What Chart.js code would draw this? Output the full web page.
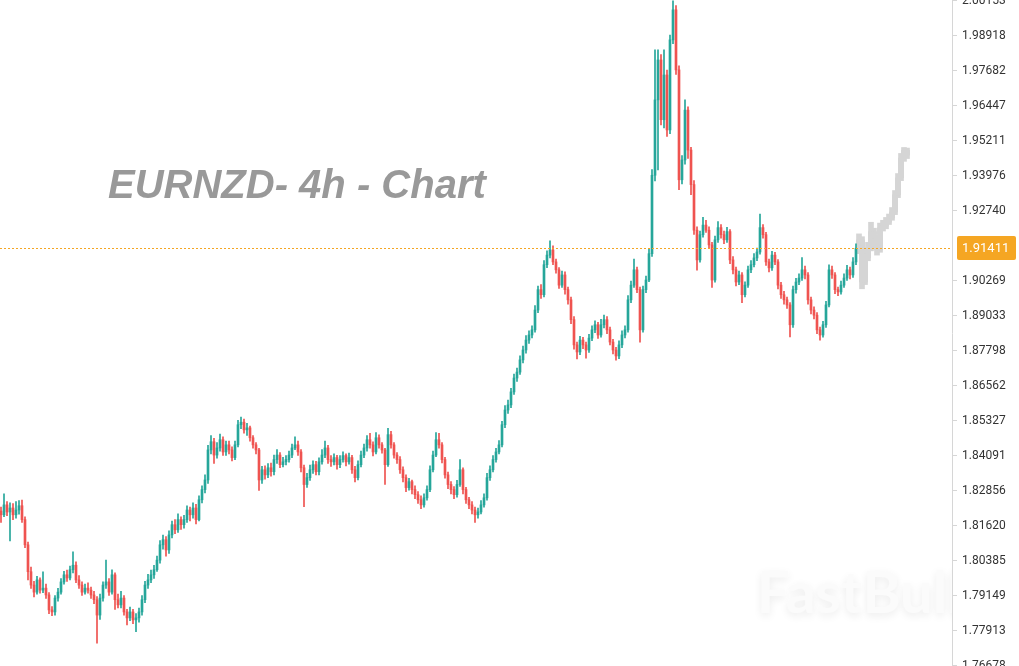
<!DOCTYPE html>
<html><head><meta charset="utf-8">
<style>html,body{margin:0;padding:0;background:#fff;overflow:hidden}canvas{display:block}</style>
<script src="https://cdn.jsdelivr.net/npm/chart.js@4.4.1/dist/chart.umd.min.js"></script>
</head><body>
<canvas id="c" width="1019" height="666"></canvas>
<script>
const titleText = 'EURNZD- 4h - Chart';
const watermarkText = 'FastBull';

const opens = [
1.8213,1.8200,1.8235,1.8210,1.8224,1.8200,1.8217,1.8232,1.8183,1.8094,
1.7999,1.7952,1.7927,1.7970,1.7934,1.7941,1.7917,1.7864,1.7857,1.7906,
1.7927,1.7963,1.7988,1.7977,1.8006,1.8022,1.7970,1.7952,1.7927,1.7941,
1.7934,1.7917,1.7900,1.7846,1.7906,1.7952,1.7963,1.7927,1.7988,1.7900,
1.7882,1.7906,1.7857,1.7836,1.7857,1.7829,1.7836,1.7857,1.7900,1.7952,
1.7970,1.7988,1.8006,1.8040,1.8094,1.8112,1.8076,1.8129,1.8165,1.8147,
1.8183,1.8165,1.8183,1.8217,1.8200,1.8224,1.8183,1.8253,1.8289,1.8323,
1.8429,1.8458,1.8411,1.8436,1.8465,1.8422,1.8447,1.8429,1.8402,1.8447,
1.8518,1.8527,1.8500,1.8507,1.8472,1.8447,1.8429,1.8323,1.8359,1.8341,
1.8366,1.8352,1.8395,1.8411,1.8377,1.8387,1.8395,1.8411,1.8436,1.8447,
1.8422,1.8366,1.8307,1.8331,1.8359,1.8377,1.8352,1.8387,1.8411,1.8436,
1.8395,1.8387,1.8402,1.8377,1.8395,1.8409,1.8387,1.8402,1.8359,1.8331,
1.8377,1.8411,1.8436,1.8465,1.8447,1.8422,1.8472,1.8447,1.8429,1.8377,
1.8483,1.8447,1.8411,1.8395,1.8359,1.8331,1.8296,1.8317,1.8289,1.8271,
1.8253,1.8235,1.8260,1.8289,1.8359,1.8411,1.8465,1.8447,1.8395,1.8341,
1.8307,1.8289,1.8271,1.8307,1.8359,1.8289,1.8253,1.8235,1.8217,1.8200,
1.8210,1.8235,1.8260,1.8331,1.8359,1.8395,1.8422,1.8447,1.8518,1.8570,
1.8588,1.8634,1.8683,1.8704,1.8747,1.8782,1.8817,1.8835,1.8853,1.8923,
1.8995,1.8977,1.9083,1.9117,1.9135,1.9093,1.9065,1.9011,1.9047,1.8995,
1.8959,1.8889,1.8800,1.8775,1.8817,1.8800,1.8782,1.8824,1.8853,1.8871,
1.8835,1.8871,1.8889,1.8853,1.8810,1.8782,1.8761,1.8800,1.8835,1.8853,
1.8959,1.9011,1.9065,1.8995,1.8853,1.8995,1.9029,1.9122,1.9399,1.9665,
1.9806,1.9595,1.9753,1.9559,1.9877,1.9983,1.9771,1.9383,1.9453,1.9629,
1.9488,1.9366,1.9205,1.9100,1.9189,1.9223,1.9205,1.9153,1.9029,1.9171,
1.9214,1.9189,1.9171,1.9200,1.9100,1.9065,1.9022,1.9047,1.8977,1.9011,
1.9065,1.9083,1.9107,1.9128,1.9214,1.9189,1.9093,1.9072,1.9117,1.9093,
1.9011,1.8977,1.8959,1.8941,1.8871,1.8995,1.9022,1.9036,1.9065,1.9047,
1.8959,1.8923,1.8905,1.8853,1.8835,1.8871,1.8941,1.9065,1.9047,1.8995,
1.8987,1.9011,1.9036,1.9065,1.9047,1.9093];

const highs = [
1.8227,1.8274,1.8247,1.8242,1.8240,1.8247,1.8250,1.8252,1.8193,1.8104,
1.8015,1.7965,1.7983,1.7977,1.7999,1.7955,1.7925,1.7876,1.7915,1.7940,
1.7975,1.8000,1.8005,1.8019,1.8069,1.8034,1.7985,1.7963,1.7955,1.7960,
1.7945,1.7930,1.7911,1.7920,1.7963,1.8040,1.7975,1.8006,1.7995,1.7920,
1.7930,1.7915,1.7866,1.7874,1.7866,1.7851,1.7871,1.7915,1.7965,1.7990,
1.8005,1.8022,1.8054,1.8109,1.8128,1.8123,1.8143,1.8178,1.8183,1.8203,
1.8193,1.8198,1.8232,1.8227,1.8242,1.8237,1.8267,1.8302,1.8341,1.8445,
1.8480,1.8470,1.8455,1.8485,1.8475,1.8460,1.8460,1.8440,1.8460,1.8534,
1.8545,1.8538,1.8523,1.8513,1.8480,1.8455,1.8435,1.8371,1.8373,1.8381,
1.8383,1.8411,1.8430,1.8420,1.8403,1.8409,1.8425,1.8450,1.8475,1.8460,
1.8430,1.8376,1.8346,1.8376,1.8391,1.8389,1.8401,1.8430,1.8460,1.8445,
1.8409,1.8415,1.8410,1.8409,1.8422,1.8415,1.8418,1.8410,1.8371,1.8391,
1.8425,1.8450,1.8480,1.8488,1.8458,1.8490,1.8482,1.8455,1.8435,1.8505,
1.8495,1.8455,1.8420,1.8406,1.8369,1.8341,1.8329,1.8323,1.8302,1.8282,
1.8267,1.8274,1.8302,1.8373,1.8425,1.8490,1.8488,1.8455,1.8403,1.8351,
1.8317,1.8300,1.8322,1.8395,1.8366,1.8297,1.8262,1.8247,1.8227,1.8224,
1.8250,1.8274,1.8346,1.8373,1.8409,1.8435,1.8462,1.8530,1.8586,1.8605,
1.8647,1.8697,1.8718,1.8761,1.8796,1.8833,1.8850,1.8867,1.8939,1.9008,
1.9013,1.9098,1.9132,1.9167,1.9150,1.9103,1.9073,1.9061,1.9058,1.9004,
1.8969,1.8900,1.8810,1.8830,1.8827,1.8810,1.8837,1.8867,1.8885,1.8880,
1.8890,1.8905,1.8900,1.8863,1.8820,1.8791,1.8814,1.8850,1.8867,1.8974,
1.9025,1.9103,1.9075,1.9004,1.9008,1.9043,1.9137,1.9419,1.9842,1.9842,
1.9825,1.9842,1.9770,1.9894,2.0015,1.9998,1.9785,1.9468,1.9665,1.9641,
1.9498,1.9380,1.9217,1.9202,1.9250,1.9240,1.9217,1.9162,1.9184,1.9235,
1.9225,1.9202,1.9215,1.9207,1.9112,1.9075,1.9061,1.9055,1.9023,1.9078,
1.9098,1.9122,1.9142,1.9262,1.9225,1.9197,1.9103,1.9130,1.9127,1.9101,
1.9021,1.8989,1.8969,1.8949,1.9008,1.9035,1.9051,1.9108,1.9078,1.9055,
1.8969,1.8934,1.8914,1.8863,1.8883,1.8954,1.9083,1.9078,1.9055,1.9004,
1.9025,1.9051,1.9081,1.9075,1.9108,1.9157];

const lows = [
1.8173,1.8193,1.8197,1.8108,1.8183,1.8188,1.8202,1.8173,1.8084,1.7970,
1.7940,1.7910,1.7920,1.7923,1.7925,1.7905,1.7851,1.7844,1.7846,1.7895,
1.7920,1.7955,1.7965,1.7970,1.7995,1.7960,1.7940,1.7915,1.7920,1.7923,
1.7905,1.7886,1.7747,1.7831,1.7895,1.7940,1.7915,1.7920,1.7866,1.7871,
1.7871,1.7846,1.7811,1.7826,1.7816,1.7787,1.7821,1.7846,1.7890,1.7940,
1.7960,1.7975,1.8000,1.8029,1.8079,1.8054,1.8064,1.8118,1.8133,1.8138,
1.8148,1.8153,1.8173,1.8178,1.8188,1.8168,1.8178,1.8242,1.8277,1.8311,
1.8415,1.8381,1.8400,1.8425,1.8410,1.8410,1.8415,1.8390,1.8395,1.8440,
1.8504,1.8488,1.8480,1.8460,1.8435,1.8415,1.8286,1.8311,1.8326,1.8331,
1.8336,1.8341,1.8381,1.8366,1.8369,1.8376,1.8386,1.8402,1.8430,1.8410,
1.8351,1.8229,1.8297,1.8321,1.8346,1.8341,1.8341,1.8379,1.8402,1.8381,
1.8371,1.8376,1.8361,1.8366,1.8386,1.8373,1.8379,1.8346,1.8316,1.8323,
1.8369,1.8402,1.8425,1.8435,1.8408,1.8415,1.8435,1.8418,1.8307,1.8371,
1.8435,1.8400,1.8381,1.8346,1.8316,1.8282,1.8287,1.8274,1.8257,1.8240,
1.8222,1.8227,1.8252,1.8282,1.8351,1.8405,1.8435,1.8383,1.8329,1.8292,
1.8274,1.8257,1.8262,1.8300,1.8274,1.8240,1.8222,1.8203,1.8173,1.8188,
1.8203,1.8227,1.8252,1.8321,1.8351,1.8386,1.8415,1.8440,1.8508,1.8558,
1.8578,1.8625,1.8671,1.8696,1.8736,1.8771,1.8805,1.8825,1.8845,1.8914,
1.8964,1.8969,1.9073,1.9107,1.9083,1.9053,1.8999,1.9003,1.8979,1.8944,
1.8875,1.8785,1.8750,1.8765,1.8787,1.8753,1.8773,1.8815,1.8843,1.8823,
1.8827,1.8860,1.8840,1.8800,1.8768,1.8746,1.8751,1.8790,1.8825,1.8845,
1.8949,1.9003,1.8984,1.8810,1.8845,1.8984,1.9023,1.9112,1.9379,1.9418,
1.9577,1.9566,1.9536,1.9546,1.9864,1.9755,1.9348,1.9368,1.9438,1.9458,
1.9330,1.9190,1.9064,1.9092,1.9180,1.9197,1.9142,1.9003,1.9021,1.9162,
1.9177,1.9157,1.9162,1.9087,1.9051,1.9008,1.9013,1.8949,1.8969,1.9003,
1.9055,1.9075,1.9097,1.9120,1.9177,1.9081,1.9058,1.9063,1.9083,1.8998,
1.8964,1.8944,1.8929,1.8828,1.8862,1.8983,1.9013,1.9028,1.9033,1.8944,
1.8909,1.8892,1.8840,1.8817,1.8827,1.8862,1.8934,1.9035,1.8981,1.8974,
1.8979,1.9003,1.9028,1.9033,1.9038,1.9083];

const closes = [
1.8200,1.8235,1.8210,1.8224,1.8200,1.8217,1.8232,1.8183,1.8094,1.7999,
1.7952,1.7927,1.7970,1.7934,1.7941,1.7917,1.7864,1.7857,1.7906,1.7927,
1.7963,1.7988,1.7977,1.8006,1.8022,1.7970,1.7952,1.7927,1.7941,1.7934,
1.7917,1.7900,1.7846,1.7906,1.7952,1.7963,1.7927,1.7988,1.7900,1.7882,
1.7906,1.7857,1.7836,1.7857,1.7829,1.7836,1.7857,1.7900,1.7952,1.7970,
1.7988,1.8006,1.8040,1.8094,1.8112,1.8076,1.8129,1.8165,1.8147,1.8183,
1.8165,1.8183,1.8217,1.8200,1.8224,1.8183,1.8253,1.8289,1.8323,1.8429,
1.8458,1.8411,1.8436,1.8465,1.8422,1.8447,1.8429,1.8402,1.8447,1.8518,
1.8527,1.8500,1.8507,1.8472,1.8447,1.8429,1.8323,1.8359,1.8341,1.8366,
1.8352,1.8395,1.8411,1.8377,1.8387,1.8395,1.8411,1.8436,1.8447,1.8422,
1.8366,1.8307,1.8331,1.8359,1.8377,1.8352,1.8387,1.8411,1.8436,1.8395,
1.8387,1.8402,1.8377,1.8395,1.8409,1.8387,1.8402,1.8359,1.8331,1.8377,
1.8411,1.8436,1.8465,1.8447,1.8422,1.8472,1.8447,1.8429,1.8377,1.8483,
1.8447,1.8411,1.8395,1.8359,1.8331,1.8296,1.8317,1.8289,1.8271,1.8253,
1.8235,1.8260,1.8289,1.8359,1.8411,1.8465,1.8447,1.8395,1.8341,1.8307,
1.8289,1.8271,1.8307,1.8359,1.8289,1.8253,1.8235,1.8217,1.8200,1.8210,
1.8235,1.8260,1.8331,1.8359,1.8395,1.8422,1.8447,1.8518,1.8570,1.8588,
1.8634,1.8683,1.8704,1.8747,1.8782,1.8817,1.8835,1.8853,1.8923,1.8995,
1.8977,1.9083,1.9117,1.9135,1.9093,1.9065,1.9011,1.9047,1.8995,1.8959,
1.8889,1.8800,1.8775,1.8817,1.8800,1.8782,1.8824,1.8853,1.8871,1.8835,
1.8871,1.8889,1.8853,1.8810,1.8782,1.8761,1.8800,1.8835,1.8853,1.8959,
1.9011,1.9065,1.8995,1.8853,1.8995,1.9029,1.9122,1.9399,1.9665,1.9806,
1.9595,1.9753,1.9559,1.9877,1.9983,1.9771,1.9383,1.9453,1.9629,1.9488,
1.9366,1.9205,1.9100,1.9189,1.9223,1.9205,1.9153,1.9029,1.9171,1.9214,
1.9189,1.9171,1.9200,1.9100,1.9065,1.9022,1.9047,1.8977,1.9011,1.9065,
1.9083,1.9107,1.9128,1.9214,1.9189,1.9093,1.9072,1.9117,1.9093,1.9011,
1.8977,1.8959,1.8941,1.8871,1.8995,1.9022,1.9036,1.9065,1.9047,1.8959,
1.8923,1.8905,1.8853,1.8835,1.8871,1.8941,1.9065,1.9047,1.8995,1.8987,
1.9011,1.9036,1.9065,1.9047,1.9093,1.91411];

// projected (grey) candles that follow the last real candle
const fcStart = 286;
const fcOpen  = [1.9141,1.9171,1.9022,1.9107,1.9143,1.9200,1.9178,1.9135,1.9214,1.9219,1.9233,1.9248,1.9269,1.9330,1.9390,1.9460,1.9487];
const fcHigh  = [1.9192,1.9182,1.9122,1.9162,1.9233,1.9212,1.9187,1.9230,1.9240,1.9250,1.9262,1.9285,1.9345,1.9405,1.9476,1.9497,1.9495];
const fcLow   = [1.9122,1.8998,1.9013,1.9097,1.9132,1.9167,1.9117,1.9127,1.9202,1.9210,1.9225,1.9240,1.9260,1.9320,1.9380,1.9448,1.9458];
const fcClose = [1.9171,1.9022,1.9107,1.9143,1.9200,1.9178,1.9135,1.9214,1.9219,1.9233,1.9248,1.9269,1.9330,1.9390,1.9460,1.9487,1.9470];

const tickValues = [2.00153,1.98918,1.97682,1.96447,1.95211,1.93976,1.92740,1.90269,1.89033,1.87798,1.86562,1.85327,1.84091,1.82856,1.81620,1.80385,1.79149,1.77913,1.76678];
const slotCount = 317;

const UP = '#26a69a', DOWN = '#ef5350', FC = '#d5d5d5', ORANGE = '#f5a623';

const bodyData = closes.map((c, i) => ({x: i, y: [opens[i], c]}));
const wickData = closes.map((c, i) => ({x: i, y: [lows[i], highs[i]]}));
const candleColors = closes.map((c, i) => c >= opens[i] ? UP : DOWN);
const fcBody = fcClose.map((c, i) => ({x: fcStart + i, y: [fcOpen[i], c]}));
const fcWick = fcClose.map((c, i) => ({x: fcStart + i, y: [fcLow[i], fcHigh[i]]}));

const overlay = {
  id: 'overlay',
  beforeDatasetsDraw(chart) {
    const {ctx, chartArea: a} = chart;
    ctx.save();
    ctx.beginPath();
    ctx.rect(a.left, a.top, a.right - a.left, a.bottom - a.top);
    ctx.clip();
    ctx.font = 'bold 58px Lato';
    ctx.textBaseline = 'alphabetic';
    ctx.fillStyle = '#fbfbfb';
    ctx.shadowColor = 'rgba(0,0,0,0.08)';
    ctx.shadowBlur = 8;
    ctx.shadowOffsetY = 3;
    ctx.fillText(watermarkText, 757, 613);
    ctx.restore();

    ctx.save();
    ctx.font = 'italic bold 40px "Liberation Sans", Arial, sans-serif';
    ctx.fillStyle = '#999999';
    ctx.textBaseline = 'alphabetic';
    ctx.fillText(titleText, 108, 198);
    ctx.restore();
  },
  afterDraw(chart) {
    const {ctx, chartArea: a, scales: {y}} = chart;
    const last = closes[closes.length - 1];
    const py = Math.round(y.getPixelForValue(last)) + 0.5;
    ctx.save();
    ctx.strokeStyle = ORANGE;
    ctx.lineWidth = 1;
    ctx.setLineDash([2, 2]);
    ctx.beginPath();
    ctx.moveTo(a.left, py);
    ctx.lineTo(a.right - 2, py);
    ctx.stroke();
    ctx.setLineDash([]);
    const bx = a.right + 5, bw = 59, bh = 24, by = py - 12.5;
    ctx.fillStyle = ORANGE;
    ctx.beginPath();
    if (ctx.roundRect) ctx.roundRect(bx, by, bw, bh, 2); else ctx.rect(bx, by, bw, bh);
    ctx.fill();
    ctx.fillStyle = '#ffffff';
    ctx.font = '13px Roboto';
    ctx.textBaseline = 'middle';
    ctx.textAlign = 'left';
    ctx.fillText(last.toFixed(5), a.right + 10, py + 0.5);
    ctx.restore();
  }
};

new Chart(document.getElementById('c').getContext('2d'), {
  type: 'bar',
  data: {
    datasets: [
      {data: bodyData, backgroundColor: candleColors, barThickness: 2, grouped: false, order: 0, borderWidth: 0},
      {data: wickData, backgroundColor: candleColors, barThickness: 1, grouped: false, order: 1, borderWidth: 0},
      {data: fcBody, backgroundColor: FC, barThickness: 5, grouped: false, order: 2, borderWidth: 0},
      {data: fcWick, backgroundColor: FC, barThickness: 5, grouped: false, order: 3, borderWidth: 0}
    ]
  },
  options: {
    responsive: false,
    animation: false,
    devicePixelRatio: 1,
    layout: {padding: 0},
    plugins: {legend: {display: false}, tooltip: {enabled: false}, title: {display: false}},
    scales: {
      x: {type: 'linear', min: -1/3, max: slotCount, display: false, offset: false},
      y: {
        position: 'right',
        min: 1.76661,
        max: 2.00178,
        afterBuildTicks: s => { s.ticks = tickValues.map(v => ({value: v})); },
        afterFit: s => { s.width = 67; s.paddingTop = 0; s.paddingBottom = 0; },
        ticks: {autoSkip: false, padding: 5, color: '#333333', font: {family: 'Roboto', size: 12},
                callback: v => Number(v).toFixed(5)},
        grid: {drawOnChartArea: false, drawTicks: true, tickLength: 5, color: '#d6d6d6'},
        border: {display: true, color: '#d6d6d6'}
      }
    }
  },
  plugins: [overlay]
});
</script>
</body></html>
